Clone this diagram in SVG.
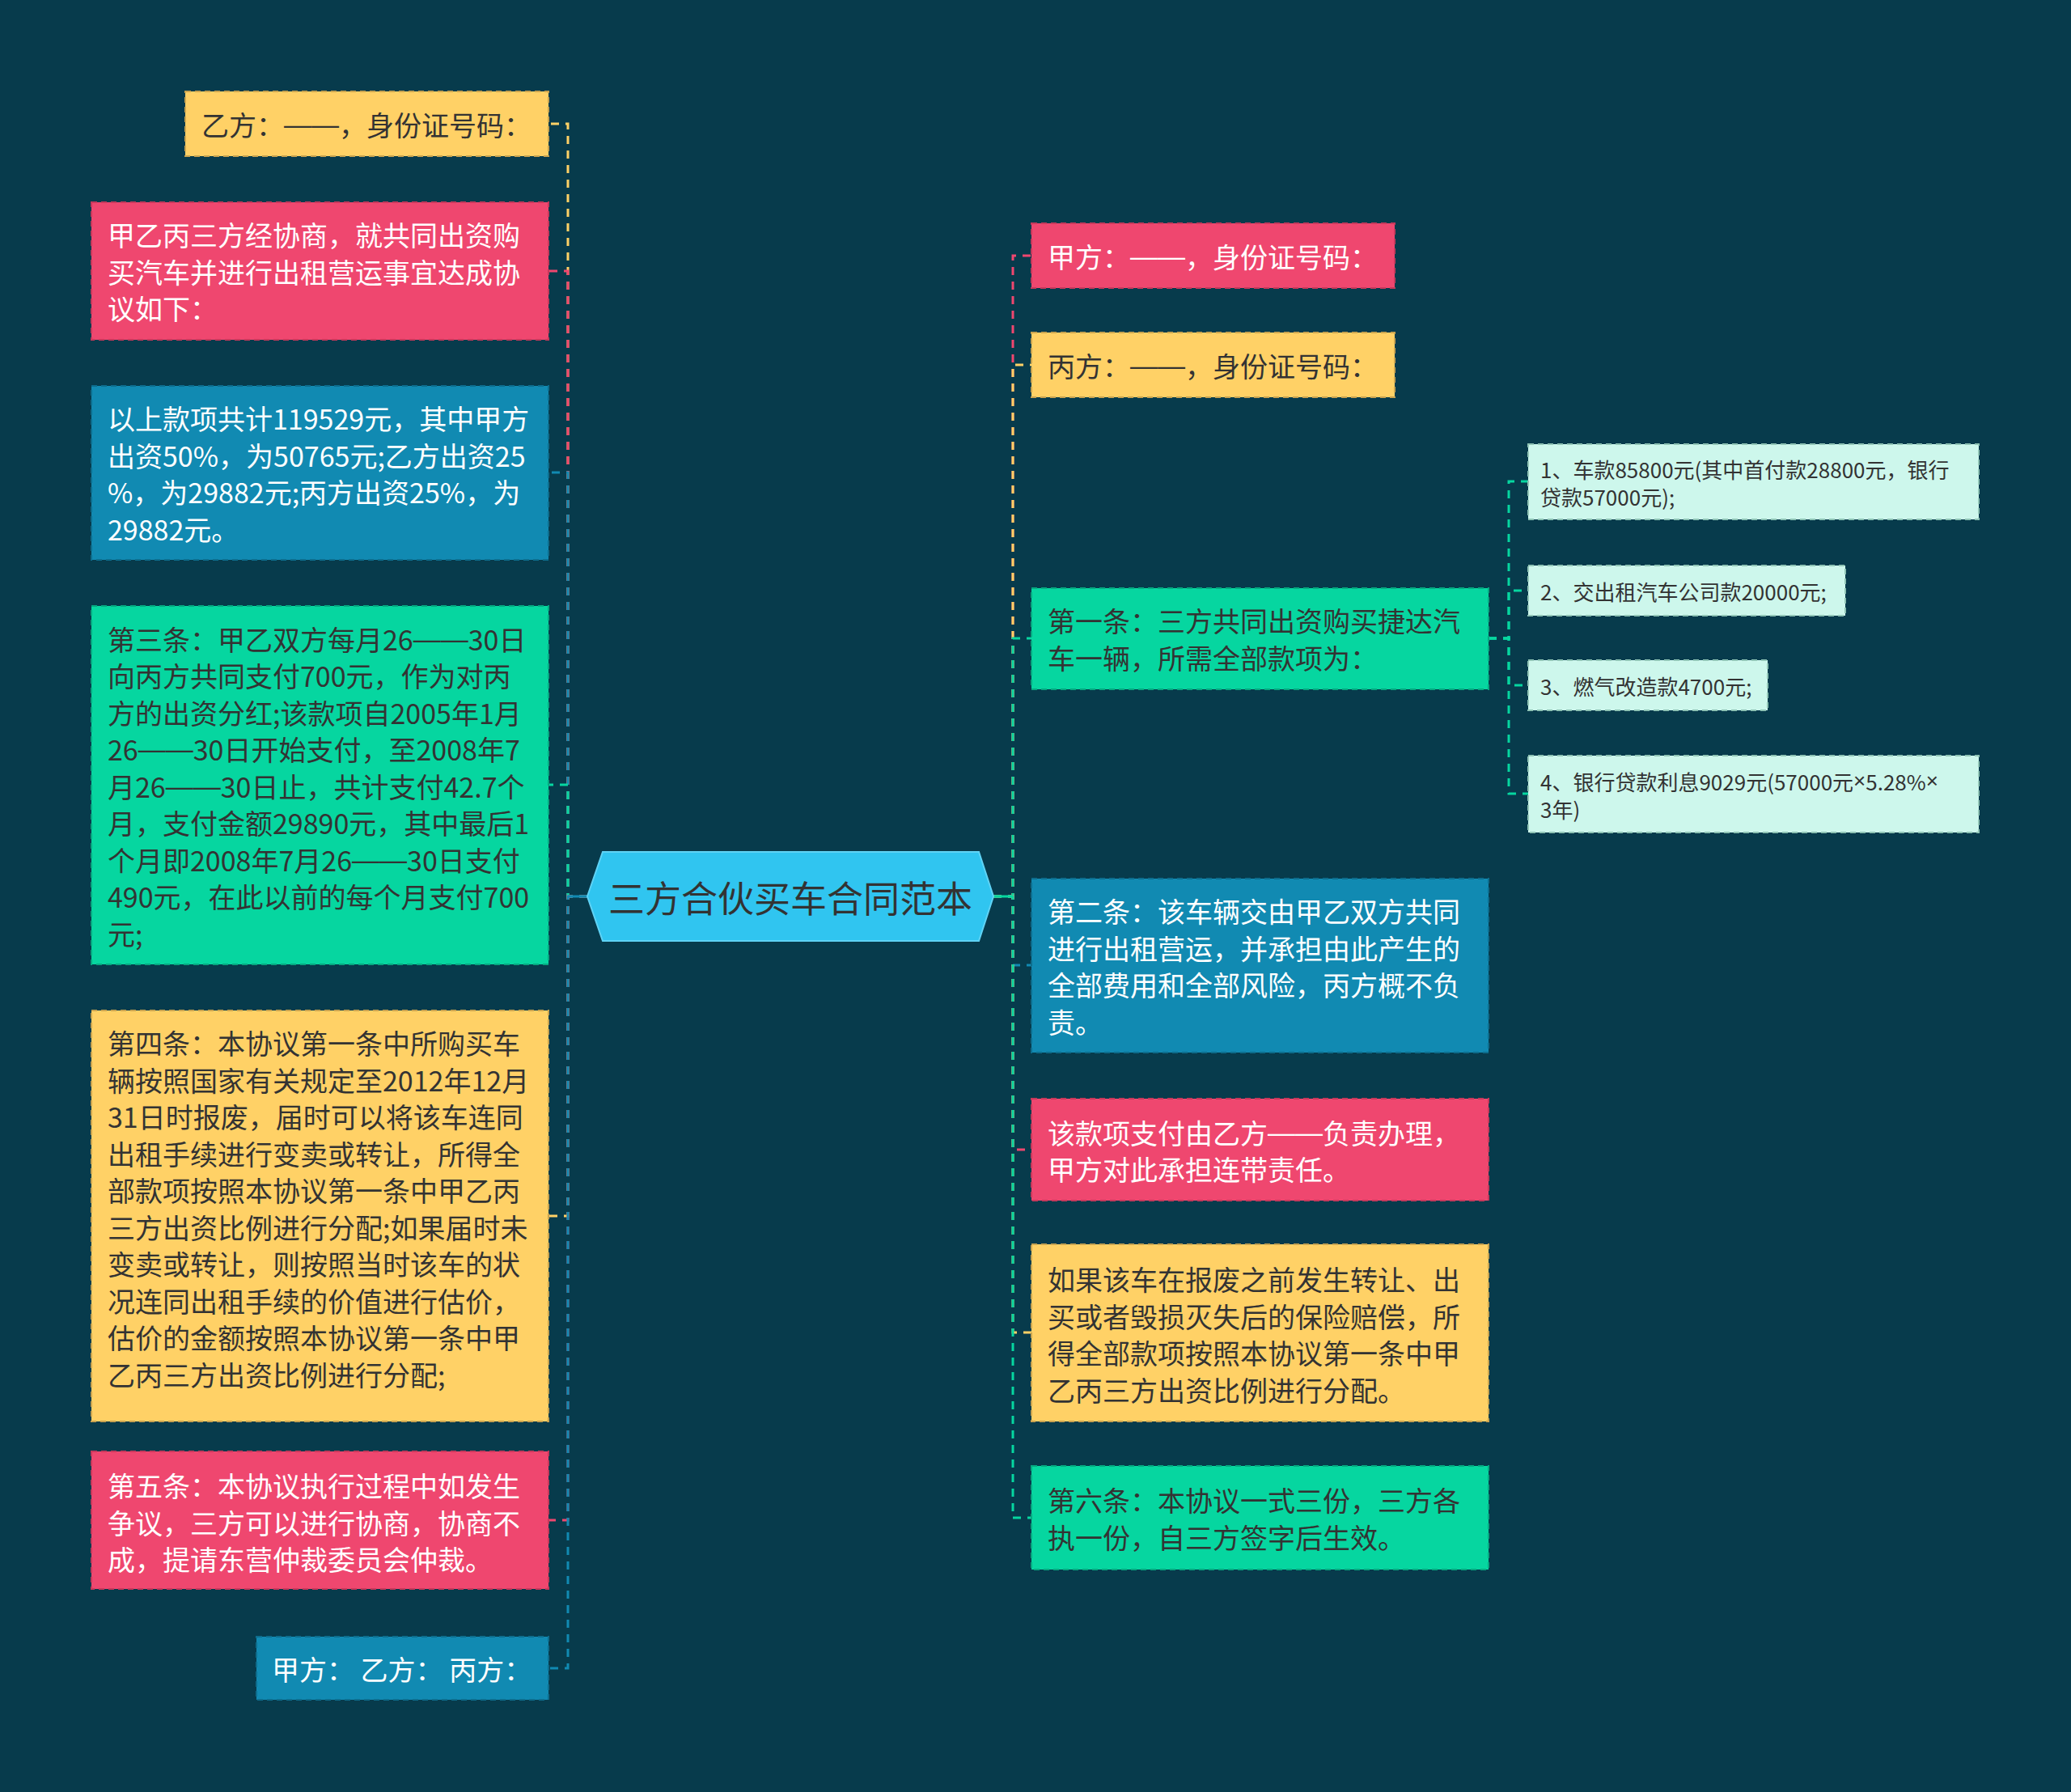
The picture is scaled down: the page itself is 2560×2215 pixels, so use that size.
<svg xmlns="http://www.w3.org/2000/svg" width="2560" height="2215" viewBox="0 0 2560 2215">
<style>
text{font-family:"Noto Sans CJK SC","Noto Sans",sans-serif;dominant-baseline:central}
.em{font-family:"Liberation Sans","Noto Sans CJK SC",sans-serif}
.n{font-size:34px}
.s{font-size:26px}
.w{fill:#ffffff}
.d{fill:#333333}
.box{stroke-width:2;stroke-dasharray:7 5}
.pk{fill:#EF476F;stroke:#c7385b}
.yl{fill:#FFD166;stroke:#c9a34f}
.tl{fill:#06D6A0;stroke:#05a980}
.bl{fill:#118AB2;stroke:#0d6d8d}
.mt{fill:#CDF7EC;stroke:#8fc4b5}
.c{fill:none;stroke-width:3;stroke-dasharray:10 8}
.cp{stroke:#EF476F}.cy{stroke:#FFD166}.ct{stroke:#06D6A0}.cb{stroke:#118AB2}
</style>
<rect x="0" y="0" width="2560" height="2215" fill="#073B4C"/>
<g id="connectors">
<path class="c cy" d="M726 1108 H702 V153 H678"/>
<path class="c cp" d="M726 1108 H702 V335 H678"/>
<path class="c cb" d="M726 1108 H702 V584 H678"/>
<path class="c ct" d="M726 1108 H702 V970 H678"/>
<path class="c cy" d="M726 1108 H702 V1503 H678"/>
<path class="c cp" d="M726 1108 H702 V1879 H678"/>
<path class="c cb" d="M726 1108 H702 V2062 H678"/>
<line x1="702" y1="1108" x2="726" y2="1108" stroke="#118AB2" stroke-width="3"/>
<path class="c cp" d="M1228 1108 H1252 V316 H1275"/>
<path class="c cy" d="M1228 1108 H1252 V451 H1275"/>
<path class="c ct" d="M1228 1108 H1252 V789 H1275"/>
<path class="c cb" d="M1228 1108 H1252 V1193 H1275"/>
<path class="c cp" d="M1228 1108 H1252 V1421 H1275"/>
<path class="c cy" d="M1228 1108 H1252 V1647 H1275"/>
<path class="c ct" d="M1228 1108 H1252 V1876 H1275"/>
<line x1="1228" y1="1108" x2="1252" y2="1108" stroke="#06D6A0" stroke-width="3"/>
<path class="c ct" d="M1840 789 H1865 V595 H1889"/>
<path class="c ct" d="M1840 789 H1865 V730 H1889"/>
<path class="c ct" d="M1840 789 H1865 V847 H1889"/>
<path class="c ct" d="M1840 789 H1865 V981 H1889"/>
</g>
<g id="root">
<polygon points="726,1108 745,1053 1210,1053 1228,1108 1210,1163 745,1163" fill="#30C5F0" stroke="#5fd3f5" stroke-width="2"/>
<text x="977" y="1108" text-anchor="middle" font-size="45" fill="#333333">三方合伙买车合同范本</text>
</g>
<g id="L1">
<rect class="box yl" x="229" y="113" width="449" height="80"/>
<text class="n d" x="249" y="153">乙方：<tspan class="em">——</tspan>，身份证号码：</text>
</g>
<g id="L2">
<rect class="box pk" x="113" y="250" width="565" height="170"/>
<text class="n w" x="133" y="289">甲乙丙三方经协商，就共同出资购</text>
<text class="n w" x="133" y="335">买汽车并进行出租营运事宜达成协</text>
<text class="n w" x="133" y="380">议如下：</text>
</g>
<g id="L3">
<rect class="box bl" x="113" y="477" width="565" height="215"/>
<text class="n w" x="133" y="516">以上款项共计119529元，其中甲方</text>
<text class="n w" x="133" y="562">出资50%，为50765元;乙方出资25</text>
<text class="n w" x="133" y="607">%，为29882元;丙方出资25%，为</text>
<text class="n w" x="133" y="653">29882元。</text>
</g>
<g id="L4">
<rect class="box tl" x="113" y="749" width="565" height="443"/>
<text class="n d" x="133" y="789">第三条：甲乙双方每月26<tspan class="em">——</tspan>30日</text>
<text class="n d" x="133" y="834">向丙方共同支付700元，作为对丙</text>
<text class="n d" x="133" y="880">方的出资分红;该款项自2005年1月</text>
<text class="n d" x="133" y="925">26<tspan class="em">——</tspan>30日开始支付，至2008年7</text>
<text class="n d" x="133" y="971">月26<tspan class="em">——</tspan>30日止，共计支付42.7个</text>
<text class="n d" x="133" y="1016">月，支付金额29890元，其中最后1</text>
<text class="n d" x="133" y="1062">个月即2008年7月26<tspan class="em">——</tspan>30日支付</text>
<text class="n d" x="133" y="1107">490元，在此以前的每个月支付700</text>
<text class="n d" x="133" y="1153">元;</text>
</g>
<g id="L5">
<rect class="box yl" x="113" y="1249" width="565" height="508"/>
<text class="n d" x="133" y="1288">第四条：本协议第一条中所购买车</text>
<text class="n d" x="133" y="1334">辆按照国家有关规定至2012年12月</text>
<text class="n d" x="133" y="1379">31日时报废，届时可以将该车连同</text>
<text class="n d" x="133" y="1425">出租手续进行变卖或转让，所得全</text>
<text class="n d" x="133" y="1470">部款项按照本协议第一条中甲乙丙</text>
<text class="n d" x="133" y="1516">三方出资比例进行分配;如果届时未</text>
<text class="n d" x="133" y="1561">变卖或转让，则按照当时该车的状</text>
<text class="n d" x="133" y="1607">况连同出租手续的价值进行估价，</text>
<text class="n d" x="133" y="1652">估价的金额按照本协议第一条中甲</text>
<text class="n d" x="133" y="1698">乙丙三方出资比例进行分配;</text>
</g>
<g id="L6">
<rect class="box pk" x="113" y="1794" width="565" height="170"/>
<text class="n w" x="133" y="1835">第五条：本协议执行过程中如发生</text>
<text class="n w" x="133" y="1881">争议，三方可以进行协商，协商不</text>
<text class="n w" x="133" y="1926">成，提请东营仲裁委员会仲裁。</text>
</g>
<g id="L7">
<rect class="box bl" x="317" y="2023" width="361" height="78"/>
<text class="n w" x="336" y="2062">甲方： 乙方： 丙方：</text>
</g>
<g id="R1">
<rect class="box pk" x="1275" y="276" width="449" height="80"/>
<text class="n w" x="1295" y="316">甲方：<tspan class="em">——</tspan>，身份证号码：</text>
</g>
<g id="R2">
<rect class="box yl" x="1275" y="411" width="449" height="80"/>
<text class="n d" x="1295" y="451">丙方：<tspan class="em">——</tspan>，身份证号码：</text>
</g>
<g id="R3">
<rect class="box tl" x="1275" y="727" width="565" height="125"/>
<text class="n d" x="1295" y="766">第一条：三方共同出资购买捷达汽</text>
<text class="n d" x="1295" y="812">车一辆，所需全部款项为：</text>
</g>
<g id="R4">
<rect class="box bl" x="1275" y="1086" width="565" height="215"/>
<text class="n w" x="1295" y="1125">第二条：该车辆交由甲乙双方共同</text>
<text class="n w" x="1295" y="1171">进行出租营运，并承担由此产生的</text>
<text class="n w" x="1295" y="1216">全部费用和全部风险，丙方概不负</text>
<text class="n w" x="1295" y="1262">责。</text>
</g>
<g id="R5">
<rect class="box pk" x="1275" y="1358" width="565" height="126"/>
<text class="n w" x="1295" y="1399">该款项支付由乙方<tspan class="em">——</tspan>负责办理，</text>
<text class="n w" x="1295" y="1444">甲方对此承担连带责任。</text>
</g>
<g id="R6">
<rect class="box yl" x="1275" y="1538" width="565" height="219"/>
<text class="n d" x="1295" y="1580">如果该车在报废之前发生转让、出</text>
<text class="n d" x="1295" y="1626">买或者毁损灭失后的保险赔偿，所</text>
<text class="n d" x="1295" y="1671">得全部款项按照本协议第一条中甲</text>
<text class="n d" x="1295" y="1717">乙丙三方出资比例进行分配。</text>
</g>
<g id="R7">
<rect class="box tl" x="1275" y="1812" width="565" height="128"/>
<text class="n d" x="1295" y="1853">第六条：本协议一式三份，三方各</text>
<text class="n d" x="1295" y="1899">执一份，自三方签字后生效。</text>
</g>
<g id="S1">
<rect class="box mt" x="1889" y="549" width="557" height="93"/>
<text class="s d" x="1904" y="579">1、车款85800元(其中首付款28800元，银行</text>
<text class="s d" x="1904" y="613">贷款57000元);</text>
</g>
<g id="S2">
<rect class="box mt" x="1889" y="699" width="392" height="62"/>
<text class="s d" x="1904" y="730">2、交出租汽车公司款20000元;</text>
</g>
<g id="S3">
<rect class="box mt" x="1889" y="816" width="296" height="62"/>
<text class="s d" x="1904" y="847">3、燃气改造款4700元;</text>
</g>
<g id="S4">
<rect class="box mt" x="1889" y="934" width="557" height="95"/>
<text class="s d" x="1904" y="965">4、银行贷款利息9029元(57000元<tspan class="em">×</tspan>5.28%<tspan class="em">×</tspan></text>
<text class="s d" x="1904" y="999">3年)</text>
</g>
</svg>
